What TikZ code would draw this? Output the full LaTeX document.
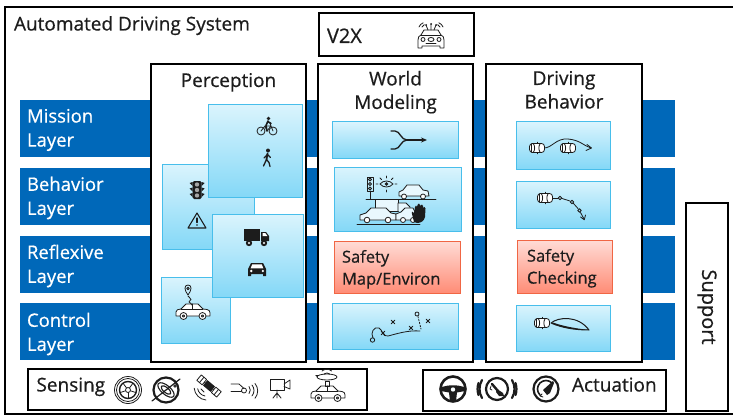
\documentclass[tikz,border=0pt]{standalone}
\usepackage{fontspec}
\setmainfont{Open Sans}[FakeBold=0.6]
\usetikzlibrary{fit,shadows,arrows.meta}

\definecolor{layerblue}{RGB}{0,104,185}
\definecolor{tiletop}{RGB}{218,244,253}
\definecolor{tilebot}{RGB}{132,216,247}
\definecolor{tileedge}{RGB}{72,190,235}
\definecolor{warntop}{RGB}{255,220,214}
\definecolor{warnbot}{RGB}{255,140,118}
\definecolor{warnedge}{RGB}{240,102,68}
\definecolor{ink}{RGB}{28,28,28}

\tikzset{
  every node/.style={inner sep=0pt, outer sep=0pt, text=ink},
  framebox/.style={draw=black, line width=1.8pt, fill=white},
  layerbar/.style={fill=layerblue, draw=white, line width=1.5pt,
    drop shadow={shadow xshift=1.2pt, shadow yshift=-1.2pt, opacity=0.3}},
  tile/.style={top color=tiletop, bottom color=tilebot, draw=tileedge, line width=1pt,
    drop shadow={shadow xshift=1pt, shadow yshift=-1pt, opacity=0.22}},
  warntile/.style={top color=warntop, bottom color=warnbot, draw=warnedge, line width=1pt,
    drop shadow={shadow xshift=1pt, shadow yshift=-1pt, opacity=0.22}},
  icon/.style={draw=ink, line width=0.8pt, line cap=round, line join=round},
  thickicon/.style={draw=ink, line width=2.2pt, line cap=round, line join=round},
  titletext/.style={font=\fontsize{19}{24}\selectfont},
  coltext/.style={font=\fontsize{19}{23.5}\selectfont, align=center},
  layertext/.style={font=\fontsize{18.5}{24}\selectfont, text=white, align=left},
  tiletext/.style={font=\fontsize{16.5}{22}\selectfont, align=left},
  bartext/.style={font=\fontsize{19}{24}\selectfont},
  % top view of a car, front to the right
  cartop/.pic={
    \draw[icon, fill=white, rounded corners=3pt] (-7.5,-4.5) rectangle (7.5,4.5);
    \draw[icon] (-5.5,-4.3) -- (-5.5,4.3);
    \draw[icon] (-3.5,-4) .. controls (-2,-2) and (-2,2) .. (-3.5,4);
    \draw[icon] (3,-4) .. controls (1.5,-2) and (1.5,2) .. (3,4);
    \draw[icon] (0,-4.5) -- (0,-5.8) (0,4.5) -- (0,5.8);
  },
  % side view of a car, outline
  carside/.pic={
    \draw[icon, fill=white] (-17,4) -- (-17,0) .. controls (-17,-2) and (-15,-3) .. (-12,-3)
      -- (-7,-8) -- (5,-8) -- (10,-3) -- (14,-2.5) .. controls (16,-2) and (17,-1) .. (17,1)
      -- (17,4) -- cycle;
    \draw[icon] (-12,-3) -- (10,-3) (-1,-8) -- (-1,-3);
    \draw[icon, fill=white] (-9.5,4) circle (3.5) (9.5,4) circle (3.5);
    \draw[icon] (-9.5,4) circle (1.2) (9.5,4) circle (1.2);
  },
  % front view of a car, filled
  carfront/.pic={
    \fill[ink] (-9,-1) -- (-6,-7) -- (6,-7) -- (9,-1) -- (9,6) -- (6,6) -- (6,4) -- (-6,4)
      -- (-6,6) -- (-9,6) -- cycle;
    \fill[white] (-4.8,-5.6) -- (4.8,-5.6) -- (6.4,-1.6) -- (-6.4,-1.6) -- cycle;
    \fill[white] (-5.8,1) circle (1.3) (5.8,1) circle (1.3);
  },
}

\begin{document}
\begin{tikzpicture}[x=1pt, y=-1pt]
\clip (0,0) rectangle (733,417);
\fill[white] (0,0) rectangle (733,417);

% outer frame of the system
\node[framebox, line width=2pt, fit={(5,7) (745,414)}] (system) {};
\node[titletext, anchor=base west] (systitle) at (14,30.5) {Automated Driving System};

% V2X box
\node[framebox, fit={(319,13) (474,56)}] (v2x) {};
\node[font=\fontsize{20}{24}\selectfont, anchor=base west] (v2xtxt) at (327,43) {V2X};
\begin{scope}[shift={(431,36)}]
  \draw[icon] (-13,12) -- (-13,4) .. controls (-13,1) and (-12,0) .. (-10,-1) -- (-7,-6) -- (7,-6)
     -- (10,-1) .. controls (12,0) and (13,1) .. (13,4) -- (13,12) -- (9,12) -- (9,10) -- (-9,10)
     -- (-9,12) -- cycle;
  \draw[icon] (-10,-1) -- (10,-1);
  \draw[icon] (-8,3.5) circle (2) (8,3.5) circle (2) (0,3.5) ellipse (3 and 2);
  \draw[icon] (-5,7) -- (5,7);
  \draw[icon] (-3,-6) -- (-5,-11) (0,-6) -- (0,-12) (3,-6) -- (5,-11);
  \fill[ink] (-5,-11) circle (1) (0,-12) circle (1) (5,-11) circle (1);
  \draw[icon] (-9,-9) arc[start angle=200, end angle=250, radius=4];
  \draw[icon] (-12,-9) arc[start angle=200, end angle=250, radius=7];
  \draw[icon] (9,-9) arc[start angle=-20, end angle=-70, radius=4];
  \draw[icon] (12,-9) arc[start angle=-20, end angle=-70, radius=7];
\end{scope}

% layer bars, running behind the three columns
\node[layerbar, fit={(19,99) (676,158)}] (mission) {};
\node[layerbar, fit={(19,167) (676,226)}] (behavior) {};
\node[layerbar, fit={(19,235) (676,294)}] (reflexive) {};
\node[layerbar, fit={(19,302) (676,361)}] (control) {};
\node[layertext, anchor=west] (missiontxt) at (27,130) {Mission\\Layer};
\node[layertext, anchor=west] (behaviortxt) at (27,198) {Behavior\\Layer};
\node[layertext, anchor=west] (reflexivetxt) at (27,266) {Reflexive\\Layer};
\node[layertext, anchor=west] (controltxt) at (27,334) {Control\\Layer};

% the three columns
\node[framebox, fit={(151,64) (306,362)}] (perception) {};
\node[framebox, fit={(318,64) (473,362)}] (world) {};
\node[framebox, fit={(486,64) (642,362)}] (driving) {};
\node[coltext, anchor=base] (perctitle) at (228.5,87) {Perception};
\node[coltext, anchor=north] (worldtitle) at (395.5,71) {World\\Modeling};
\node[coltext, anchor=north] (drivetitle) at (564,71) {Driving\\Behavior};

% perception tiles
\node[tile, fit={(162,164) (254,249)}] (signs) {};
\node[tile, fit={(161,277) (230,343)}] (localize) {};
\node[tile, fit={(208,105) (302,197)}] (vulnerable) {};
\node[tile, fit={(212,214) (303,297)}] (vehicles) {};

% bicycle
\begin{scope}[shift={(267,128)}]
  \draw[icon] (-6,3) circle (4) (6,3) circle (4);
  \draw[icon] (-6,3) -- (-2,-2) -- (4,-2) -- (6,3) (-2,-2) -- (0,3) -- (4,-2) (4,-2) -- (3,-5);
  \fill[ink] (1.5,-9.5) circle (1.8);
  \draw[ink, line width=1.6pt, line cap=round] (1,-7) -- (-1,-2.5) (0.8,-6.5) -- (4,-4.5) (-1,-2.5) -- (0,3);
\end{scope}
% pedestrian
\begin{scope}[shift={(267,158)}]
  \fill[ink] (1,-7.5) circle (2);
  \draw[ink, line width=1.8pt, line cap=round, line join=round] (0.5,-4.5) -- (-0.5,1.5);
  \draw[ink, line width=1.3pt, line cap=round, line join=round]
    (-0.5,1.5) -- (-3.5,8) (-0.5,1.5) -- (2,4.5) -- (3,8.5) (0.5,-3.5) -- (-3,0) (0.5,-3.5) -- (3.5,-0.5);
\end{scope}
% traffic light
\begin{scope}[shift={(197,190)}]
  \fill[ink, rounded corners=1.5pt] (-4.5,-9) rectangle (4.5,9);
  \fill[ink] (-4.5,-8) -- (-7.5,-7) -- (-4.5,-4) (4.5,-8) -- (7.5,-7) -- (4.5,-4)
             (-4.5,-2.5) -- (-7.5,-1.5) -- (-4.5,1.5) (4.5,-2.5) -- (7.5,-1.5) -- (4.5,1.5)
             (-4.5,3) -- (-7.5,4) -- (-4.5,7) (4.5,3) -- (7.5,4) -- (4.5,7);
  \fill[black!35] (0,-5.5) circle (2.2) (0,0) circle (2.2) (0,5.5) circle (2.2);
\end{scope}
% warning sign
\begin{scope}[shift={(197,221)}]
  \draw[icon, line width=1.1pt] (0,-8) -- (9,7) -- (-9,7) -- cycle;
  \draw[icon, line width=1.2pt] (0,-3) -- (0,1.5);
  \fill[ink] (0,4) circle (0.9);
\end{scope}
% truck
\begin{scope}[shift={(257,236)}]
  \fill[ink] (-13,-7) rectangle (3,5);
  \fill[ink] (4,-4) -- (9,-4) -- (12,0) -- (12,5) -- (4,5) -- cycle;
  \fill[white] (5.5,-2.8) -- (8.4,-2.8) -- (10.4,0) -- (5.5,0) -- cycle;
  \fill[ink] (-8,7) circle (3.2) (7,7) circle (3.2);
  \fill[white] (-8,7) circle (1.2) (7,7) circle (1.2);
\end{scope}
\pic at (257,270) {carfront};
% car following a route
\pic at (193,312) {carside};
\begin{scope}[shift={(188,290)}]
  \draw[icon] (0,5) .. controls (-4,0) and (-4,-5) .. (0,-5) .. controls (4,-5) and (4,0) .. (0,5);
  \draw[icon] (0,-1.5) circle (1.3);
  \draw[icon] (0,6) .. controls (0,8) and (3,7) .. (3,9.5) .. controls (3,11) and (1,10) .. (1,12)
     .. controls (1,13) and (4,13) .. (4,15);
\end{scope}

% world modeling tiles
\node[tile, fit={(332,122) (458,158)}] (fusion) {};
\node[tile, fit={(334,167) (461,231)}] (scene) {};
\node[warntile, fit={(334,241) (460,293)}] (safemap) {};
\node[tile, fit={(332,303) (458,349)}] (predict) {};
\node[tiletext, anchor=north west] (safemaptxt) at (342,250) {Safety\\Map/Environ};

% merging arrow
\draw[icon, line width=1.3pt] (391,131) -- (395,131) .. controls (400,131) and (401,140) .. (407,140);
\draw[icon, line width=1.3pt] (391,149) -- (395,149) .. controls (400,149) and (401,140) .. (407,140);
\draw[icon, line width=1.3pt, -{Stealth[length=6pt, width=5pt]}] (407,140) -- (427,140);

% street scene
\begin{scope}
  \draw[icon] (367,177) rectangle (373,191);
  \draw[icon] (370,179.5) circle (1.5) (370,184) circle (1.5) (370,188.5) circle (1.5);
  \draw[icon] (370,191) -- (370,199) (366,199) -- (436,199);
  \draw[icon] (380,184) .. controls (383,180) and (390,180) .. (393,184) .. controls (390,188) and (383,188) .. (380,184);
  \fill[ink] (386.5,184) circle (1.8);
  \draw[icon] (386.5,176) -- (386.5,178) (380,178) -- (381.5,179.5) (393,178) -- (391.5,179.5)
     (378,184) -- (376,184) (395,184) -- (397,184) (386.5,190) -- (386.5,192);
  \draw[icon, fill=tiletop!60] (399,196) -- (399,192) -- (403,190) -- (407,185) -- (419,185) -- (423,190)
     -- (428,191) -- (429,196) -- cycle;
  \draw[icon, fill=white] (404,196.5) circle (2.5) (423,196.5) circle (2.5);
  \draw[icon, fill=tiletop!60] (375,211) rectangle (398,199.5);
  \draw[icon, fill=tiletop!60] (398,211) -- (398,203) -- (406,203) -- (410,207) -- (410,211);
  \draw[icon, fill=tiletop!60] (360,220) -- (360,215) -- (366,213) -- (371,208) -- (386,208) -- (391,213)
     -- (396,214) -- (396,220) -- cycle;
  \draw[icon, fill=white] (367,220) circle (2.8) (388,220) circle (2.8);
  \draw[icon, fill=tiletop!60] (396,220) -- (396,214) -- (401,212) -- (405,208) -- (413,208) -- (416,214) -- (418,220) -- cycle;
  \draw[icon, fill=white] (403,220) circle (2.5) (413,220) circle (2.5);
  \draw[icon] (357,224) -- (420,224);
  \fill[ink] (414,222) -- (412,214) .. controls (411,211) and (413,211) .. (414,213) -- (415,207)
     .. controls (415,205) and (417,205) .. (417,207) -- (417.5,205) .. controls (418,203) and (420,203) .. (420,205)
     -- (420.5,206) .. controls (421,204) and (423,204) .. (423,206) -- (423,208) .. controls (423.5,206.5) and (425.5,206.5) .. (425.5,208.5)
     -- (425,217) .. controls (424,221) and (421,223) .. (417,223) -- cycle;
\end{scope}

% predicted trajectory
\begin{scope}
  \draw[icon] (372.5,340) circle (2.2);
  \draw[icon] (373,337.8) .. controls (370,333) and (374,326) .. (379,328) .. controls (383,330) and (382,337) .. (388,336)
     .. controls (396,334) and (408,330) .. (420,331);
  \draw[icon] (417,314) circle (2);
  \draw[icon, dash pattern=on 1.5pt off 1.5pt] (418,316.5) -- (421,329);
  \foreach \px/\py in {383/333, 393/322, 411/328, 428/321}
    \draw[icon] (\px-1.8,\py-1.8) -- (\px+1.8,\py+1.8) (\px-1.8,\py+1.8) -- (\px+1.8,\py-1.8);
\end{scope}

% driving behavior tiles
\node[tile, fit={(516,122) (610,169)}] (route) {};
\node[tile, fit={(516,181) (610,228)}] (plan) {};
\node[warntile, fit={(517,240) (612,293)}] (safecheck) {};
\node[tile, fit={(516,305) (610,351)}] (motion) {};
\node[tiletext, anchor=north west] (safechecktxt) at (527,249) {Safety\\Checking};

% overtaking manoeuvre
\draw[icon] (544,148) .. controls (552,148) and (556,138) .. (568,139) .. controls (580,140) and (584,146) .. (591,148);
\draw[icon] (587,144.5) -- (591.5,148) -- (586,150.5);
\pic at (537,148) {cartop};
\pic at (568,148) {cartop};
% planned path with waypoints
\pic at (545,198) {cartop};
\draw[icon] (552.5,198) -- (558,198);
\draw[icon] (560,198) circle (1.8);
\draw[icon] (562,198.5) -- (570,201);
\draw[icon] (572,202) circle (1.8);
\draw[icon] (573.5,203.5) -- (578,208.5);
\draw[icon] (579.5,210.5) circle (1.8);
\draw[icon] (580.5,212.5) -- (584,219);
\draw[icon] (580.5,217) -- (584.3,219.8) -- (585.5,215);
% motion envelope
\pic at (542,323) {cartop};
\draw[icon, line width=1pt] (551,323) .. controls (558,317) and (578,315) .. (589,330)
  .. controls (576,330) and (562,328) .. (551,323);
\fill[ink] (551,323) .. controls (562,328) and (576,330) .. (589,330)
  .. controls (576,328.5) and (562,326) .. (553,322.5) -- cycle;

% support box
\node[framebox, fit={(686,203) (728,411)}] (support) {};
\node[font=\fontsize{20}{24}\selectfont, rotate=-90] (supporttxt) at (707,307) {Support};

% sensing bar
\node[framebox, fit={(28,369) (367,410)}] (sensing) {};
\node[bartext, anchor=base west] (sensingtxt) at (36.5,391.5) {Sensing};
% wheel speed
\begin{scope}[shift={(128,390)}]
  \draw[icon] (0,0) circle (13.5) (0,0) circle (11.5);
  \draw[icon, line width=1.4pt] (0,0) circle (8.5);
  \draw[icon] (0,0) circle (2.5);
  \foreach \a in {90,162,234,306,18}
    \draw[icon] (\a:2.5) -- (\a:8.5);
\end{scope}
% inertial unit
\begin{scope}[shift={(166,390)}]
  \draw[thickicon] (0,0) circle (12.5);
  \draw[icon, line width=1.1pt, rotate=-40] (0,0) ellipse (10 and 4.5) (0,0) ellipse (6 and 2.5);
  \draw[icon, line width=1.2pt] (-14,11) -- (14,-11);
  \draw[icon] (9,-4) circle (1.3);
\end{scope}
% satellite positioning: body and panels along the falling diagonal
\begin{scope}[shift={(209,386)}]
  \begin{scope}[x={(0.766pt,-0.643pt)}, y={(0.643pt,0.766pt)}]
    \fill[ink] (-5,-3.5) -- (5,-3.5) -- (5,3.5) -- (-5,3.5) -- cycle;
    \draw[icon, fill=white] (-13,-3.5) -- (-6,-3.5) -- (-6,3.5) -- (-13,3.5) -- cycle;
    \draw[icon, fill=white] (6,-3.5) -- (13,-3.5) -- (13,3.5) -- (6,3.5) -- cycle;
    \draw[icon] (-9.5,-3.5) -- (-9.5,3.5) (9.5,-3.5) -- (9.5,3.5) (-6,0) -- (-5,0) (5,0) -- (6,0);
  \end{scope}
  \draw[icon] (-5,6) arc[start angle=110, end angle=160, radius=5];
  \draw[icon] (-4,10) arc[start angle=100, end angle=170, radius=9];
  \draw[icon] (-3,14) arc[start angle=95, end angle=175, radius=13];
\end{scope}
% radar
\begin{scope}[shift={(242,388)}]
  \draw[icon] (-11,-4) -- (-3,-4) -- (2,0.5);
  \draw[icon] (-11,3) -- (-0.5,3);
  \draw[icon] (2,2.5) circle (2.5);
  \draw[icon] (7,-1.5) arc[start angle=-40, end angle=40, radius=5.5];
  \draw[icon] (10,-3) arc[start angle=-40, end angle=40, radius=8.5];
  \draw[icon] (13,-4.5) arc[start angle=-40, end angle=40, radius=11.5];
\end{scope}
% camera
\begin{scope}[shift={(280,386)}]
  \draw[icon] (-10,-7) rectangle (4,4);
  \draw[icon] (4,-2) -- (10,-6) -- (10,3) -- (4,0.5);
  \draw[icon] (-3,4) -- (-3,7) -- (-7,12) (-3,7) -- (1,12) (-3,7) -- (-3,12);
\end{scope}
% lidar vehicle
\pic at (328,394) {carside};
\begin{scope}[shift={(327,377)}]
  \draw[icon] (-2,4) rectangle (2,9);
  \draw[icon] (0,0) ellipse (10 and 3);
  \draw[icon] (-3,-3) arc[start angle=230, end angle=310, radius=4.5];
  \draw[icon] (-5,-6) arc[start angle=230, end angle=310, radius=7.5];
  \fill[ink] (-10,0) -- (-12,-2) -- (-8,-2) -- cycle;
\end{scope}

% actuation bar
\node[framebox, fit={(423,370) (666,411)}] (actuation) {};
\node[bartext, anchor=base west] (actuationtxt) at (572,391.5) {Actuation};
% steering
\begin{scope}[shift={(453,389)}]
  \draw[thickicon, line width=2.6pt] (0,0) circle (12.5);
  \fill[ink] (-12,-1.5) .. controls (-5,-4.5) and (5,-4.5) .. (12,-1.5) -- (12,2) -- (4,3.5) -- (3,12)
     -- (-3,12) -- (-4,3.5) -- (-12,2) -- cycle;
  \fill[tiletop!20!white] (0,0.5) circle (2.2);
\end{scope}
% braking
\begin{scope}[shift={(497,389)}]
  \draw[thickicon] (0,0) circle (11);
  \draw[thickicon] (-15,-9) arc[start angle=211, end angle=149, radius=17.5];
  \draw[thickicon] (15,-9) arc[start angle=-31, end angle=31, radius=17.5];
  \draw[thickicon] (-18.5,-6) arc[start angle=198, end angle=162, radius=19.5];
  \draw[thickicon] (18.5,-6) arc[start angle=-18, end angle=18, radius=19.5];
  \draw[ink, line width=2.4pt, line cap=round] (-5,-5) -- (1,2);
  \fill[ink] (0,0) -- (6,4) -- (7,7) -- (2,7) -- (-1,3) -- cycle;
  \draw[icon] (-6,-3) -- (-7,0) -- (-5,1);
\end{scope}
% acceleration
\begin{scope}[shift={(546,389)}]
  \draw[thickicon] (0,0) circle (12.5);
  \draw[icon, line width=1.6pt] (6,-6) arc[start angle=-45, end angle=-225, radius=8.5];
  \fill[ink] (-3,1) -- (7,-8) -- (8,-6) -- (4,4) -- (1,6) -- cycle;
  \draw[icon] (-4,5) -- (-6,7) -- (-3,8);
\end{scope}

\end{tikzpicture}
\end{document}
